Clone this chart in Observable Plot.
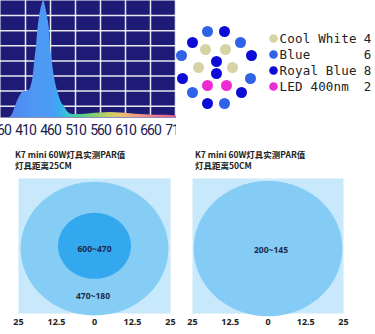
<!DOCTYPE html>
<html><head><meta charset="utf-8">
<script src="https://cdn.jsdelivr.net/npm/d3@7"></script>
<script src="https://cdn.jsdelivr.net/npm/@observablehq/plot@0.6"></script>
<style>
body{margin:0;background:#fff;width:375px;height:334px;overflow:hidden;position:relative;font-family:"Noto Sans CJK SC",sans-serif}
.abs{position:absolute}
.title{font-size:8.5px;font-weight:bold;color:#222;line-height:11px;white-space:nowrap}
svg{overflow:hidden}
#spec text{letter-spacing:-1px}
#legend text{letter-spacing:0.2px}
</style></head><body>
<div id="spec" class="abs" style="left:0;top:0;width:176px;height:137px"></div>
<div id="leds" class="abs" style="left:166px;top:22px;width:100px;height:90px"></div>
<div id="legend" class="abs" style="left:265px;top:30px;width:110px;height:66px"></div>
<div class="abs title" style="left:15px;top:149px">K7 mini 60W灯具实测PAR值<br>灯具距离25CM</div>
<div class="abs title" style="left:195px;top:149px">K7 mini 60W灯具实测PAR值<br>灯具距离50CM</div>
<div id="par25" class="abs" style="left:0;top:176px;width:190px;height:154px"></div>
<div id="par50" class="abs" style="left:174px;top:176px;width:190px;height:154px"></div>
<script>
// ---- spectrum data ----
const specTicks = [360, 410, 460, 510, 560, 610, 660, 710];
const specGridY = [0, 1, 2, 3, 4, 5, 6];
const specWave = [378,383,390,398,406,416,422,425,428.6,432,434.6,438.6,443,446.6,450,453.4,458,460,463.4,468,475,481,487,495,505,520,540,560,580,600,620,640,660,680,700,712];
const specLevel = [-0.75,-0.6,0,0.6,0.95,1.0,1.4,1.9,3,4,5,6,6.7,7,6.6,6,5,4,3,1.9,0.9,0.3,0,-0.4,-0.55,-0.55,-0.5,-0.45,-0.42,-0.45,-0.5,-0.55,-0.58,-0.6,-0.62,-0.65];
const specStopWave = [378, 400, 430, 465, 480, 495, 515, 545, 575, 600, 630, 660, 712];
const specStopColor = ["#5a80f0","#4f8ef3","#4e98f4","#4a9cf4","#38b0ec","#3cc4d0","#40d090","#7cd070","#c0d060","#e8c070","#f0a080","#f08090","#e86090"];

// ---- LED layout data ----
const ledNames = ["Cool White", "Blue", "Royal Blue", "LED 400nm"];
const ledCounts = [4, 6, 8, 2];
const ledColors = ["#d6d4a4", "#2f62e6", "#0c0cd6", "#ee2ad2"];
const ledX = [-9, 24, -35, 34, -24, 8,   8, -24, 35, 0, 0, -34, 25, -9,   -11, 9, -18, 16,  -9, 10];
const ledY = [-36, -25, -12, 11, 25, 36,  -36, -25, -12, -6, 6, 11, 25, 36,  -18, -18, 0, 0,  18, 18];
const ledType = ["Blue","Blue","Blue","Blue","Blue","Blue",
  "Royal Blue","Royal Blue","Royal Blue","Royal Blue","Royal Blue","Royal Blue","Royal Blue","Royal Blue",
  "Cool White","Cool White","Cool White","Cool White","LED 400nm","LED 400nm"];

// ---- PAR data ----
const parTicks = [-25, -12.5, 0, 12.5, 25];
const par25Radius = [24.3, 12];
const par25CenterY = [0, 1];
const par25Labels = ["600~470", "470~180"];
const par25LabelX = [0, -0.5];
const par25LabelY = [-0.4, -17.5];
const par50Radius = [24.6];
const par50CenterY = [0];
const par50Labels = ["200~145"];
const par50LabelX = [1];
const par50LabelY = [-0.7];

// ---------- spectrum ----------
const specTable = specWave.map((w, i) => ({w, v: specLevel[i]}));
const specPlot = Plot.plot({
  width: 176, height: 137,
  marginLeft: 0, marginRight: 0, marginTop: 0, marginBottom: 20,
  x: {domain: [360, 712]},
  y: {domain: [-0.75, 7], axis: null},
  style: {fontFamily: "Roboto", fontSize: "14px", color: "#1a1a50", background: "white"},
  marks: [
    Plot.frame({fill: "#1e1b76", stroke: "none"}),
    Plot.ruleX(specTicks.slice(1), {stroke: "white", strokeWidth: 1.5, strokeOpacity: 0.9}),
    Plot.ruleY(specGridY, {stroke: "white", strokeWidth: 1.5, strokeOpacity: 0.9}),
    Plot.areaY(specTable, {x: "w", y1: -0.75, y2: "v", fill: "url(#specgrad)", curve: "monotone-x", clip: true}),
    Plot.axisX({ticks: specTicks, tickSize: 0, tickPadding: 8, tickFormat: d => String(d), fill: "#1a1a50", label: null})
  ]
});
{
  const xs = specPlot.scale("x");
  const defs = d3.select(specPlot).insert("defs", ":first-child");
  const g = defs.append("linearGradient").attr("id", "specgrad")
    .attr("gradientUnits", "userSpaceOnUse")
    .attr("x1", xs.apply(specStopWave[0])).attr("x2", xs.apply(specStopWave[specStopWave.length - 1]))
    .attr("y1", 0).attr("y2", 0);
  const w0 = specStopWave[0], w1 = specStopWave[specStopWave.length - 1];
  specStopWave.forEach((w, i) => g.append("stop").attr("offset", (w - w0) / (w1 - w0)).attr("stop-color", specStopColor[i]));
}
document.getElementById("spec").append(specPlot);

// ---------- LED layout ----------
const ledTable = ledX.map((x, i) => ({x, y: ledY[i], type: ledType[i]}));
document.getElementById("leds").append(Plot.plot({
  width: 100, height: 90, margin: 0,
  x: {domain: [-50, 50], axis: null},
  y: {domain: [-45, 45], reverse: true, axis: null},
  color: {domain: ledNames, range: ledColors},
  marks: [Plot.dot(ledTable, {x: "x", y: "y", fill: "type", r: 5.5})]
}));

// ---------- legend ----------
const legendTable = ledNames.map((name, i) => ({name, count: ledCounts[i]}));
document.getElementById("legend").append(Plot.plot({
  width: 110, height: 66, margin: 0,
  y: {type: "point", domain: ledNames, range: [8, 56], padding: 0, axis: null},
  color: {domain: ledNames, range: ledColors},
  style: {fontFamily: "DejaVu Sans Mono", fontSize: "12.5px"},
  marks: [
    Plot.dot(legendTable, {y: "name", frameAnchor: "left", dx: 8, r: 4.3, fill: "name"}),
    Plot.text(legendTable, {y: "name", text: "name", frameAnchor: "left", dx: 14, textAnchor: "start", fill: "#222"}),
    Plot.text(legendTable, {y: "name", text: "count", frameAnchor: "right", dx: -4, textAnchor: "end", fill: "#222"})
  ]
}));

// ---------- PAR panels ----------
function ringPoints(r, cy) {
  return d3.range(0, 361, 3).map(a => ({x: r * Math.cos(a * Math.PI / 180), y: cy + r * Math.sin(a * Math.PI / 180)}));
}
function parPanel(radii, centers, fills, labels, lx, ly, marginRight) {
  const labelTable = labels.map((t, i) => ({t, x: lx[i], y: ly[i]}));
  return Plot.plot({
    width: 190, height: 154,
    marginLeft: 18, marginRight, marginTop: 2, marginBottom: 17,
    x: {domain: [-25, 25]},
    y: {domain: [-23.6, 25.5], axis: null},
    style: {fontFamily: "Noto Sans", fontSize: "9px", fontWeight: "bold", color: "#222", overflow: "visible"},
    marks: [
      Plot.frame({fill: "#c8e9fb", stroke: "none"}),
      ...radii.map((r, i) => Plot.line(ringPoints(r, centers[i]), {x: "x", y: "y", fill: fills[i], stroke: "none", curve: "linear-closed"})),
      Plot.text(labelTable, {x: "x", y: "y", text: "t", fill: "#1b2b4b", fontSize: 8.5, fontWeight: "bold"}),
      Plot.axisX({ticks: parTicks, tickSize: 0, tickPadding: 5, tickFormat: d => String(Math.abs(d)), label: null, fill: "#222"})
    ]
  });
}
document.getElementById("par25").append(parPanel(par25Radius, par25CenterY, ["#86cdf6", "#33a8ef"], par25Labels, par25LabelX, par25LabelY, 20));
document.getElementById("par50").append(parPanel(par50Radius, par50CenterY, ["#84cbf6"], par50Labels, par50LabelX, par50LabelY, 21));
</script>
</body></html>
